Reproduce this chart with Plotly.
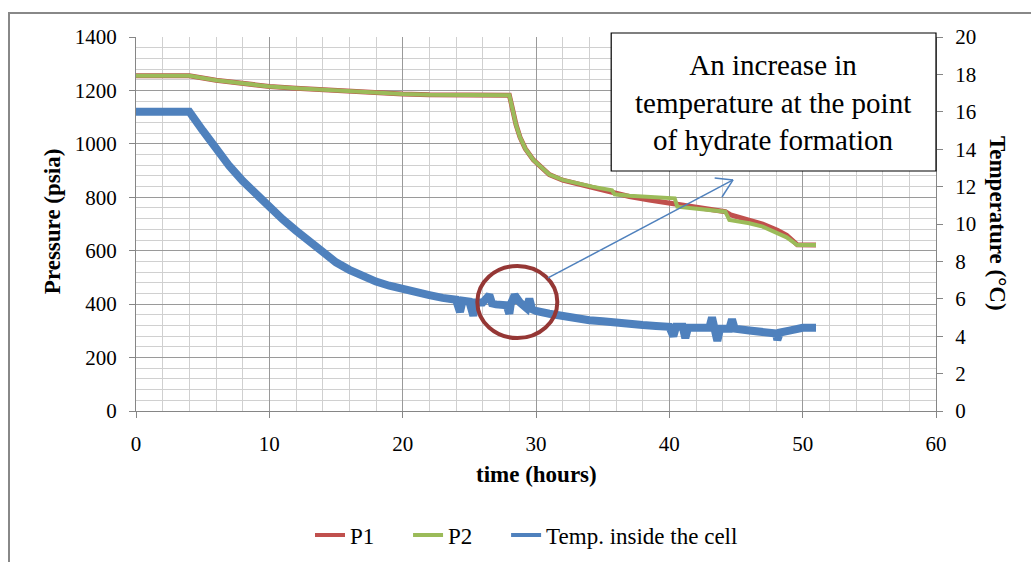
import plotly.graph_objects as go

# ---- data ----
p1_t = [0, 4, 6, 8, 10, 12, 14, 16, 18, 20, 22, 25, 28, 28.15, 28.3, 28.5, 28.8, 29.2, 29.8,
        30.5, 31.0, 32.0, 33.0, 34.3, 35.8, 37.0, 38.5, 40.1, 40.6, 42.0, 44.2, 44.6, 46.0,
        47.0, 48.1, 48.8, 49.6, 51.0]
p1_v = [1255, 1255, 1238, 1226, 1215, 1208, 1202, 1196, 1191, 1187, 1184, 1182, 1182, 1150,
        1115, 1072, 1025, 982, 940, 905, 885, 864, 851, 836, 814, 803, 790, 777, 771, 760,
        746, 734, 716, 700, 677, 658, 622, 621]

p2_t = [0, 4, 6, 8, 10, 12, 14, 16, 18, 20, 22, 25, 28, 28.15, 28.3, 28.5, 28.8, 29.2, 29.8,
        30.5, 31.0, 32.0, 33.0, 34.2, 35.7, 35.9, 37.0, 38.5, 40.4, 40.6, 42.0, 44.2, 44.5,
        46.0, 47.0, 48.1, 48.8, 49.6, 51.0]
p2_v = [1255, 1255, 1238, 1226, 1215, 1208, 1202, 1196, 1191, 1187, 1184, 1182, 1182, 1150,
        1115, 1072, 1025, 982, 940, 905, 885, 865, 852, 840, 826, 811, 806, 802, 796, 765,
        758, 746, 715, 703, 690, 666, 650, 621, 621]

temp_t = [0, 4.0, 5, 6, 7, 8, 9, 10, 11, 12, 13, 14, 15, 16, 17, 18, 19, 20, 21, 22, 23, 24,
          24.3, 24.5, 25, 25.3, 25.5, 26, 26.5, 26.7, 27, 27.8, 28.0, 28.1, 28.4, 28.8, 29.3,
          29.5, 29.7, 30, 31, 32, 33, 34, 35, 36, 37, 38, 39, 40, 40.3, 40.5, 41, 41.2, 41.4,
          42, 43, 43.2, 43.4, 43.6, 43.8, 44.5, 44.7, 44.9, 46, 47, 48, 48.1, 48.3, 49, 50, 51]
temp_v = [16.0, 16.0, 15.0, 14.0, 13.1, 12.3, 11.6, 10.9, 10.25, 9.65, 9.05, 8.45, 7.95, 7.55,
          7.2, 6.92, 6.7, 6.5, 6.35, 6.2, 6.05, 5.95, 5.3, 5.9, 5.85, 5.1, 5.8, 5.8, 6.2,
          5.75, 5.7, 5.65, 5.2, 5.7, 6.2, 5.8, 5.5, 6.0, 5.45, 5.35, 5.2, 5.05, 4.95, 4.85,
          4.8, 4.7, 4.65, 4.6, 4.55, 4.5, 4.0, 4.5, 4.5, 3.9, 4.45, 4.45, 4.45, 5.0, 4.4,
          3.75, 4.4, 4.4, 4.9, 4.4, 4.3, 4.2, 4.15, 3.8, 4.2, 4.3, 4.45, 4.45]

series_names = ["P1", "P2", "Temp. inside the cell"]
x_ticks = [0, 10, 20, 30, 40, 50, 60]
p_ticks = [0, 200, 400, 600, 800, 1000, 1200, 1400]
t_ticks = [0, 2, 4, 6, 8, 10, 12, 14, 16, 18, 20]

note_text = "An increase in<br>temperature at the point<br>of hydrate formation"

FONT = "Liberation Serif"
RED, GREEN, BLUE = "#C0504D", "#9BBB59", "#4F81BD"
COLORS = [RED, GREEN, BLUE]
PAD = "\u00a0" * 5  # extra spacing between legend entries

fig = go.Figure()
fig.add_trace(go.Scatter(x=p1_t, y=p1_v, name=series_names[0], mode="lines",
                         line=dict(color=RED, width=5), showlegend=False))
fig.add_trace(go.Scatter(x=p2_t, y=p2_v, name=series_names[1], mode="lines",
                         line=dict(color=GREEN, width=4), showlegend=False))
fig.add_trace(go.Scatter(x=temp_t, y=temp_v, name=series_names[2], mode="lines",
                         yaxis="y2", line=dict(color=BLUE, width=8), showlegend=False))
# legend entries (uniform line thickness as in the reference legend)
for i, (nm, col) in enumerate(zip(series_names, COLORS)):
    label = nm + (PAD if i < len(series_names) - 1 else "")
    fig.add_trace(go.Scatter(x=[None], y=[None], name=label, mode="lines",
                             line=dict(color=col, width=4), showlegend=True))

axis_common = dict(showline=True, linecolor="#868686", linewidth=1, ticks="outside",
                   ticklen=6, tickcolor="#868686", zeroline=False, automargin=False,
                   tickfont=dict(family=FONT, size=21, color="black"))

fig.update_layout(
    width=1031, height=562,
    margin=dict(l=136, r=95, t=37, b=151, autoexpand=False),
    paper_bgcolor="white", plot_bgcolor="white",
    font=dict(family=FONT, color="black"),
    xaxis=dict(range=[0, 60], tickvals=x_ticks, showgrid=True, gridcolor="#9a9a9a",
               gridwidth=1, minor=dict(dtick=2, showgrid=True, gridcolor="#d0d0d0"),
               ticklabelstandoff=8, **axis_common),
    yaxis=dict(range=[0, 1400], tickvals=p_ticks, showgrid=True, gridcolor="#9a9a9a",
               gridwidth=1, minor=dict(dtick=40, showgrid=True, gridcolor="#d0d0d0"),
               ticklabelstandoff=8, **axis_common),
    yaxis2=dict(range=[0, 20], tickvals=t_ticks, overlaying="y", side="right",
                showgrid=False, ticklabelstandoff=8, **axis_common),
    legend=dict(orientation="h", xref="container", yref="container",
                x=310 / 1031, xanchor="left", y=(562 - 535) / 562, yanchor="middle",
                font=dict(family=FONT, size=23, color="black"), bgcolor="rgba(0,0,0,0)"),
    showlegend=True,
)

# axis titles
fig.add_annotation(text="<b>time (hours)</b>", xref="paper", yref="paper", x=0.5, y=-0.171,
                   showarrow=False, font=dict(family=FONT, size=23), yanchor="middle")
fig.add_annotation(text="<b>Pressure (psia)</b>", xref="paper", yref="paper", x=-0.105,
                   y=0.505, textangle=-90, showarrow=False, font=dict(family=FONT, size=23),
                   xanchor="center", yanchor="middle")
fig.add_annotation(text="<b>Temperature (°C)</b>", xref="paper", yref="paper", x=1.0775,
                   y=0.5, textangle=90, showarrow=False, font=dict(family=FONT, size=23),
                   xanchor="center", yanchor="middle")

# outer chart border (left and top visible)
fig.add_shape(type="rect", xref="paper", yref="paper", x0=-0.15875, x1=1.12, y0=-0.45,
              y1=1.0642, line=dict(color="#888888", width=2), layer="below")

# highlight circle
fig.add_shape(type="circle", xref="x", yref="y", x0=25.6, x1=31.6, y0=273, y1=543,
              line=dict(color="#953735", width=4), layer="above")

# arrow from circle to note
fig.add_shape(type="line", xref="x", yref="y", x0=30.9, y0=498, x1=44.78, y1=865,
              line=dict(color=BLUE, width=1.5), layer="above")
fig.add_shape(type="line", xref="x", yref="y", x0=44.78, y0=865, x1=43.4, y1=872,
              line=dict(color=BLUE, width=1.5), layer="above")
fig.add_shape(type="line", xref="x", yref="y", x0=44.78, y0=865, x1=43.95, y1=801,
              line=dict(color=BLUE, width=1.5), layer="above")

# note box
fig.add_shape(type="rect", xref="paper", yref="paper", x0=0.594, x1=1.0, y0=0.6417,
              y1=1.0107, line=dict(color="black", width=1.2), fillcolor="white",
              layer="above")
fig.add_annotation(text=note_text, xref="paper", yref="paper", x=0.7965, y=0.826,
                   xanchor="center", yanchor="middle", showarrow=False, align="center",
                   font=dict(family=FONT, size=29, color="black"))

fig.write_html("out.html")
